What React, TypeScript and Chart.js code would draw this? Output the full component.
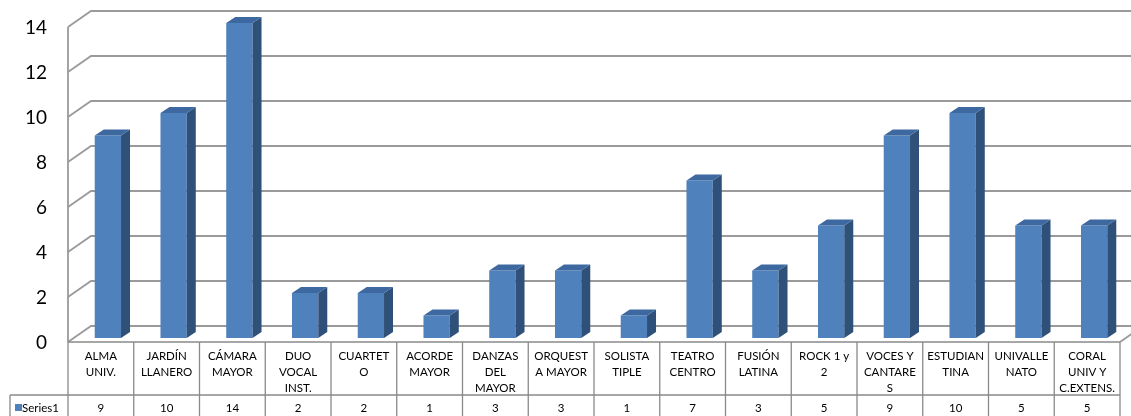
import React, { useEffect, useRef } from "react";
import { Chart, registerables } from "chart.js";

Chart.register(...registerables);

const categories: string[][] = [
  ["ALMA", "UNIV."],
  ["JARDÍN", "LLANERO"],
  ["CÁMARA", "MAYOR"],
  ["DUO", "VOCAL", "INST."],
  ["CUARTET", "O"],
  ["ACORDE", "MAYOR"],
  ["DANZAS", "DEL", "MAYOR"],
  ["ORQUEST", "A MAYOR"],
  ["SOLISTA", "TIPLE"],
  ["TEATRO", "CENTRO"],
  ["FUSIÓN", "LATINA"],
  ["ROCK 1 y", "2"],
  ["VOCES Y", "CANTARE", "S"],
  ["ESTUDIAN", "TINA"],
  ["UNIVALLE", "NATO"],
  ["CORAL", "UNIV Y", "C.EXTENS."],
];
const series1: number[] = [9, 10, 14, 2, 2, 1, 3, 3, 1, 7, 3, 5, 9, 10, 5, 5];
const seriesName = "Series1";
const yTicks: number[] = [0, 2, 4, 6, 8, 10, 12, 14];

const W = 1131;
const H = 416;
const DEPTH_X = 23;
const DEPTH_Y = -16;
const BAR_SHIFT_X = 7;
const BAR_SHIFT_Y = -4;
const BAR_DX = 9;
const BAR_DY = -6;
const FRONT = "#4F81BD";
const SIDE = "#2F5078";
const TOP = "#3D68A0";
const GRID = "#9a9a9a";
const TABLE_LINE = "#8a8a8a";
const FONT = "Lato, 'Noto Sans', sans-serif";

const wallsPlugin = {
  id: "walls3d",
  beforeDatasetsDraw(chart: any) {
    const { ctx, chartArea, scales } = chart;
    const y = scales.y;
    ctx.save();
    ctx.strokeStyle = GRID;
    ctx.lineWidth = 1.8;
    ctx.beginPath();
    ctx.moveTo(chartArea.left, y.getPixelForValue(yTicks[yTicks.length - 1]));
    ctx.lineTo(chartArea.left, chartArea.bottom);
    ctx.stroke();
    for (const v of yTicks) {
      const yf = y.getPixelForValue(v);
      ctx.beginPath();
      ctx.moveTo(chartArea.left, yf);
      ctx.lineTo(chartArea.left + DEPTH_X, yf + DEPTH_Y);
      ctx.lineTo(W, yf + DEPTH_Y);
      ctx.stroke();
    }
    const y0 = y.getPixelForValue(0);
    ctx.beginPath();
    ctx.moveTo(chartArea.right, y0);
    ctx.lineTo(chartArea.right + DEPTH_X, y0 + DEPTH_Y);
    ctx.stroke();
    // tick labels
    ctx.fillStyle = "#000";
    ctx.font = `19px ${FONT}`;
    ctx.textAlign = "right";
    ctx.textBaseline = "middle";
    for (const v of yTicks) {
      ctx.fillText(String(v), 47, y.getPixelForValue(v) + 1);
    }
    ctx.restore();
    ctx.save();
    ctx.translate(BAR_SHIFT_X, BAR_SHIFT_Y);
  },
  afterDatasetsDraw(chart: any) {
    const { ctx } = chart;
    const meta = chart.getDatasetMeta(0);
    meta.data.forEach((bar: any) => {
      const p = bar.getProps(["x", "y", "base", "width"], true);
      const l = p.x - p.width / 2;
      const r = p.x + p.width / 2;
      const t = p.y;
      const b = p.base;
      ctx.fillStyle = SIDE;
      ctx.beginPath();
      ctx.moveTo(r, t);
      ctx.lineTo(r + BAR_DX, t + BAR_DY);
      ctx.lineTo(r + BAR_DX, b + BAR_DY);
      ctx.lineTo(r, b);
      ctx.closePath();
      ctx.fill();
      ctx.fillStyle = TOP;
      ctx.beginPath();
      ctx.moveTo(l, t);
      ctx.lineTo(l + BAR_DX, t + BAR_DY);
      ctx.lineTo(r + BAR_DX, t + BAR_DY);
      ctx.lineTo(r, t);
      ctx.closePath();
      ctx.fill();
    });
    ctx.restore();
    drawTable(chart);
  },
};

function drawTable(chart: any) {
  const { ctx, chartArea, scales } = chart;
  const x = scales.x;
  const top = chartArea.bottom;
  const rowSplit = top + 53;
  const bottom = H + 2;
  const n = categories.length;
  const step = (chartArea.right - chartArea.left) / n;
  ctx.save();
  ctx.strokeStyle = TABLE_LINE;
  ctx.lineWidth = 1.3;
  ctx.beginPath();
  ctx.moveTo(chartArea.left, top);
  ctx.lineTo(chartArea.right, top);
  ctx.moveTo(10, rowSplit);
  ctx.lineTo(chartArea.right, rowSplit);
  ctx.moveTo(10, rowSplit);
  ctx.lineTo(10, bottom);
  for (let i = 0; i <= n; i++) {
    const xx = chartArea.left + i * step;
    ctx.moveTo(xx, top);
    ctx.lineTo(xx, bottom);
  }
  ctx.stroke();

  ctx.fillStyle = "#000";
  ctx.font = `11.5px ${FONT}`;
  ctx.textAlign = "center";
  ctx.textBaseline = "middle";
  const labels = chart.data.labels as string[][];
  const data = chart.data.datasets[0].data as number[];
  labels.forEach((lines, i) => {
    const cx = x.getPixelForValue(i);
    lines.forEach((ln, j) => {
      ctx.fillText(ln, cx, top + 14 + j * 16);
    });
    ctx.fillText(String(data[i]), cx, rowSplit + 13);
  });
  ctx.fillStyle = FRONT;
  ctx.fillRect(15, rowSplit + 9, 7, 7);
  ctx.fillStyle = "#000";
  ctx.textAlign = "left";
  ctx.fillText(chart.data.datasets[0].label, 22, rowSplit + 13);
  ctx.restore();
}

export default function App() {
  const ref = useRef<HTMLCanvasElement | null>(null);
  useEffect(() => {
    document.body.style.margin = "0";
    const canvas = ref.current;
    if (!canvas) return;
    const chart = new Chart(canvas, {
      type: "bar",
      data: {
        labels: categories,
        datasets: [
          {
            label: seriesName,
            data: series1,
            backgroundColor: FRONT,
            borderWidth: 0,
            barPercentage: 0.4,
            categoryPercentage: 1,
          },
        ],
      },
      options: {
        responsive: false,
        animation: false,
        devicePixelRatio: 1,
        layout: { padding: { left: 68, right: 11, top: 27, bottom: 74 } },
        plugins: { legend: { display: false }, tooltip: { enabled: false } },
        scales: {
          x: { display: false, offset: true },
          y: { display: false, min: 0, max: 14 },
        },
      },
      plugins: [wallsPlugin],
    });
    return () => chart.destroy();
  }, []);
  return (
    <div style={{ position: "absolute", left: 0, top: 0, width: W, height: H, background: "#fff" }}>
      <canvas ref={ref} width={W} height={H} />
    </div>
  );
}
